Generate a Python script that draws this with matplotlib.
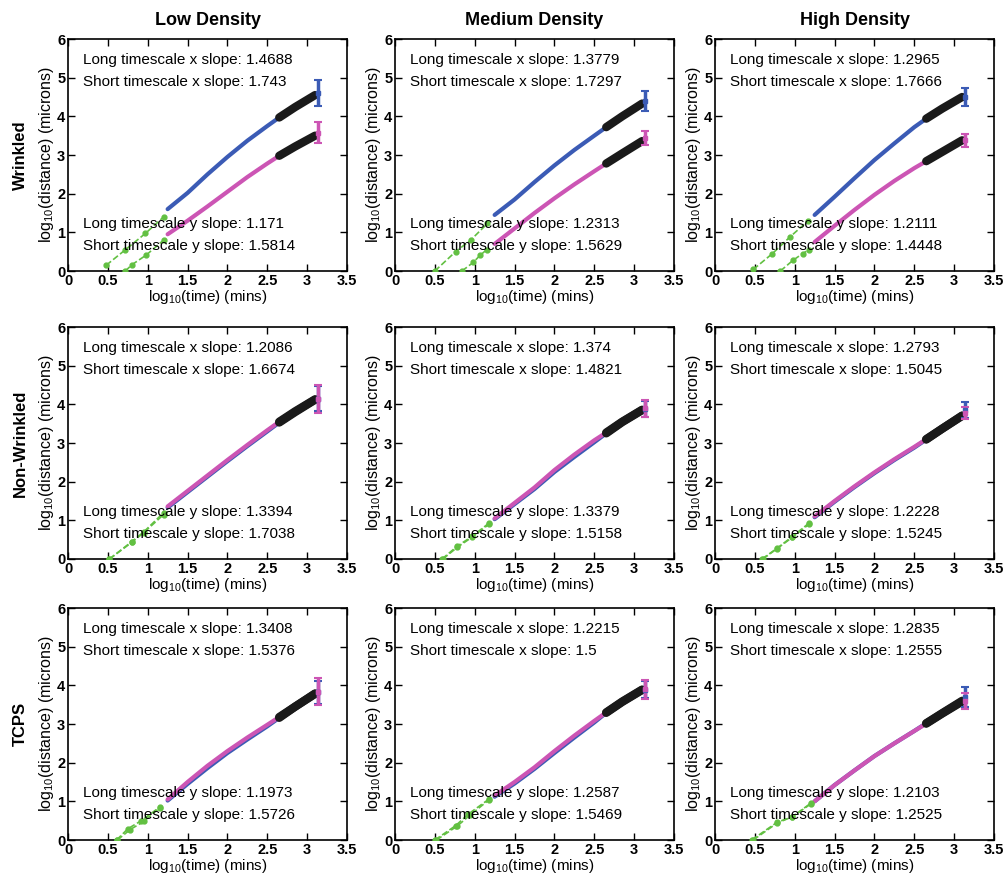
import matplotlib.pyplot as plt

plt.rcParams['font.family'] = ['Liberation Sans Narrow', 'Liberation Sans', 'DejaVu Sans']
plt.rcParams['mathtext.default'] = 'regular'

densities = ['Low Density', 'Medium Density', 'High Density']
surfaces = ['Wrinkled', 'Non-Wrinkled', 'TCPS']

# log10(time) grid the long-time curves were read at
t_long = [1.25, 1.5, 1.75, 2.0, 2.25, 2.5, 2.65, 2.85, 3.1]
t_end = 3.13

# long timescale curves, one list per density (low, medium, high)
wrinkled_x = [[1.6, 2.02, 2.5, 2.95, 3.37, 3.75, 3.97, 4.24, 4.55],
              [1.45, 1.85, 2.3, 2.73, 3.13, 3.5, 3.72, 4.0, 4.33],
              [1.45, 1.92, 2.4, 2.87, 3.3, 3.72, 3.94, 4.2, 4.5]]
wrinkled_y = [[0.95, 1.3, 1.67, 2.05, 2.43, 2.78, 2.98, 3.22, 3.5],
              [0.7, 1.1, 1.5, 1.88, 2.24, 2.58, 2.78, 3.04, 3.36],
              [0.75, 1.17, 1.58, 1.97, 2.33, 2.66, 2.84, 3.08, 3.38]]
nonwrinkled_x = [[1.33, 1.73, 2.13, 2.53, 2.92, 3.3, 3.53, 3.8, 4.12],
                 [1.03, 1.42, 1.81, 2.25, 2.64, 3.02, 3.25, 3.54, 3.85],
                 [1.08, 1.48, 1.86, 2.22, 2.56, 2.88, 3.09, 3.37, 3.71]]
nonwrinkled_y = [[1.36, 1.76, 2.16, 2.56, 2.95, 3.33, 3.55, 3.82, 4.13],
                 [1.05, 1.45, 1.85, 2.3, 2.7, 3.07, 3.27, 3.55, 3.86],
                 [1.1, 1.5, 1.88, 2.24, 2.58, 2.9, 3.1, 3.37, 3.7]]
tcps_x = [[1.02, 1.45, 1.86, 2.25, 2.6, 2.94, 3.16, 3.45, 3.79],
          [1.12, 1.46, 1.84, 2.25, 2.65, 3.04, 3.29, 3.57, 3.88],
          [1.0, 1.42, 1.8, 2.17, 2.5, 2.82, 3.02, 3.28, 3.6]]
tcps_y = [[1.05, 1.5, 1.92, 2.3, 2.65, 2.98, 3.18, 3.45, 3.78],
          [1.15, 1.5, 1.88, 2.3, 2.7, 3.08, 3.3, 3.58, 3.89],
          [1.0, 1.42, 1.8, 2.17, 2.5, 2.82, 3.01, 3.27, 3.58]]

# short timescale fits (green), (times, values)
wrinkled_short_x = [([0.48, 0.72, 0.97, 1.2], [0.15, 0.55, 0.97, 1.4]),
                    ([0.5, 0.76, 0.95, 1.16], [0.0, 0.5, 0.8, 1.23]),
                    ([0.48, 0.72, 0.94, 1.17], [0.04, 0.45, 0.88, 1.3])]
wrinkled_short_y = [([0.72, 0.8, 0.98, 1.2], [0.0, 0.16, 0.41, 0.8]),
                    ([0.84, 0.98, 1.07, 1.15], [0.0, 0.22, 0.41, 0.55]),
                    ([0.82, 0.98, 1.1, 1.18], [0.0, 0.28, 0.45, 0.55])]
nonwrinkled_short_x = [([0.52, 0.8, 0.95, 1.2], [0.0, 0.45, 0.7, 1.2]),
                       ([0.59, 0.78, 0.97, 1.18], [0.0, 0.33, 0.59, 0.93]),
                       ([0.59, 0.78, 0.97, 1.18], [0.0, 0.28, 0.58, 0.93])]
nonwrinkled_short_y = [([0.52, 0.8, 0.95, 1.2], [0.0, 0.43, 0.68, 1.15]),
                       ([0.6, 0.78, 0.97, 1.18], [0.0, 0.3, 0.57, 0.9]),
                       ([0.6, 0.78, 0.97, 1.18], [0.0, 0.27, 0.56, 0.9])]
tcps_short_x = [([0.61, 0.75, 0.92, 1.15], [0.0, 0.29, 0.5, 0.85]),
                ([0.5, 0.76, 0.92, 1.18], [0.0, 0.37, 0.67, 1.06]),
                ([0.46, 0.78, 0.97, 1.2], [0.0, 0.46, 0.6, 0.95])]
tcps_short_y = [([0.62, 0.78, 0.95, 1.15], [0.0, 0.27, 0.48, 0.83]),
                ([0.52, 0.78, 0.94, 1.18], [0.0, 0.36, 0.64, 1.04]),
                ([0.48, 0.78, 0.97, 1.2], [0.0, 0.44, 0.6, 0.93])]

# error bars at the last time point, (centre, half width)
wrinkled_err_x = [(4.6, 0.33), (4.4, 0.26), (4.5, 0.23)]
wrinkled_err_y = [(3.58, 0.28), (3.43, 0.18), (3.38, 0.17)]
nonwrinkled_err_x = [(4.15, 0.33), (3.88, 0.2), (3.85, 0.2)]
nonwrinkled_err_y = [(4.13, 0.36), (3.9, 0.22), (3.78, 0.15)]
tcps_err_x = [(3.82, 0.3), (3.88, 0.22), (3.7, 0.25)]
tcps_err_y = [(3.84, 0.35), (3.9, 0.25), (3.6, 0.2)]

long_x_slope = [[1.4688, 1.3779, 1.2965], [1.2086, 1.374, 1.2793], [1.3408, 1.2215, 1.2835]]
short_x_slope = [[1.743, 1.7297, 1.7666], [1.6674, 1.4821, 1.5045], [1.5376, 1.5, 1.2555]]
long_y_slope = [[1.171, 1.2313, 1.2111], [1.3394, 1.3379, 1.2228], [1.1973, 1.2587, 1.2103]]
short_y_slope = [[1.5814, 1.5629, 1.4448], [1.7038, 1.5158, 1.5245], [1.5726, 1.5469, 1.2525]]

long_x = [wrinkled_x, nonwrinkled_x, tcps_x]
long_y = [wrinkled_y, nonwrinkled_y, tcps_y]
short_x = [wrinkled_short_x, nonwrinkled_short_x, tcps_short_x]
short_y = [wrinkled_short_y, nonwrinkled_short_y, tcps_short_y]
err_x = [wrinkled_err_x, nonwrinkled_err_x, tcps_err_x]
err_y = [wrinkled_err_y, nonwrinkled_err_y, tcps_err_y]

blue = '#3b5bb5'
pink = '#cc55b4'
green = '#62c042'

fig = plt.figure(figsize=(10.05, 8.82), dpi=100)

lefts = [68, 395, 715]
tops = [39, 327, 608]
W, H = 279, 232

for r in range(3):
    for c in range(3):
        ax = fig.add_axes([lefts[c] / 1005, 1 - (tops[r] + H) / 882, W / 1005, H / 882])

        ax.plot(t_long, long_x[r][c], color=blue, lw=3, solid_capstyle='round', zorder=2)
        ax.plot(t_long, long_y[r][c], color=pink, lw=3, solid_capstyle='round', zorder=2)

        # fitted long timescale region
        k = [i for i, t in enumerate(t_long) if t >= 2.65]
        ax.plot([t_long[i] for i in k], [long_x[r][c][i] for i in k], color='#1a1a1a', lw=6,
                solid_capstyle='round', zorder=3)
        ax.plot([t_long[i] for i in k], [long_y[r][c][i] for i in k], color='#1a1a1a', lw=6,
                solid_capstyle='round', zorder=3)

        ax.errorbar(t_end, err_x[r][c][0], yerr=err_x[r][c][1], color=blue, lw=2.5, capsize=3,
                    capthick=1.5, marker='s', ms=3, zorder=3)
        ax.errorbar(t_end, err_y[r][c][0], yerr=err_y[r][c][1], color=pink, lw=2.5, capsize=3,
                    capthick=1.5, marker='s', ms=3, zorder=3)

        for ts, vs in (short_x[r][c], short_y[r][c]):
            ax.plot(ts, vs, color=green, ls='--', lw=1.2, marker='o', ms=3.5, zorder=3)

        ax.text(0.19, 5.45, f'Long timescale x slope: {long_x_slope[r][c]}', fontsize=11, va='center', zorder=4)
        ax.text(0.19, 4.88, f'Short timescale x slope: {short_x_slope[r][c]}', fontsize=11, va='center', zorder=4)
        ax.text(0.19, 1.22, f'Long timescale y slope: {long_y_slope[r][c]}', fontsize=11, va='center', zorder=4)
        ax.text(0.19, 0.65, f'Short timescale y slope: {short_y_slope[r][c]}', fontsize=11, va='center', zorder=4)

        ax.set_xlim(0, 3.5)
        ax.set_ylim(0, 6)
        ax.set_xticks([0, 0.5, 1, 1.5, 2, 2.5, 3, 3.5])
        ax.set_xticklabels(['0', '0.5', '1', '1.5', '2', '2.5', '3', '3.5'])
        ax.set_yticks(range(7))
        ax.tick_params(direction='in', top=True, right=True, length=5, width=1, pad=2,
                       labelsize=10.5)
        for lab in ax.get_xticklabels() + ax.get_yticklabels():
            lab.set_fontweight('bold')
        for s in ax.spines.values():
            s.set_linewidth(1.2)

        ax.set_xlabel(r'log$_{10}$(time) (mins)', fontsize=11, labelpad=0)
        ax.set_ylabel(r'log$_{10}$(distance) (microns)', fontsize=11.5, labelpad=1)

        if r == 0:
            ax.set_title(densities[c], fontsize=13, fontweight='bold', pad=10)
        if c == 0:
            ax.text(-0.172, 0.5, surfaces[r], transform=ax.transAxes, rotation=90,
                    fontsize=12, fontweight='bold', ha='center', va='center')

fig.savefig('out.png', dpi=100)
